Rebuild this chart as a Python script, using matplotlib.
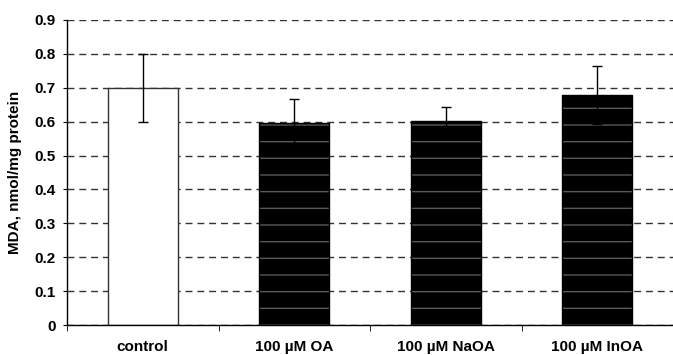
import numpy as np
import matplotlib
matplotlib.use("Agg")
import matplotlib.pyplot as plt

plt.rcParams['font.family'] = ['Liberation Sans', 'DejaVu Sans']
plt.rcParams['hatch.linewidth'] = 1.0

# data
categories = ['control', '100 µM OA', '100 µM NaOA', '100 µM InOA']
means = [0.70, 0.596, 0.603, 0.678]
errors = [0.10, 0.071, 0.04, 0.086]
yticks = [0, 0.1, 0.2, 0.3, 0.4, 0.5, 0.6, 0.7, 0.8, 0.9]
ytick_labels = ['0', '0.1', '0.2', '0.3', '0.4', '0.5', '0.6', '0.7', '0.8', '0.9']

fig = plt.figure(figsize=(6.73, 3.55), dpi=100)
ax = fig.add_axes([0.0996, 0.0845, 0.9004, 0.8592])

x = np.arange(len(categories))
facecolors = ['white', 'black', 'black', 'black']
edgecolors = ['#333333', 'black', 'black', 'black']
hatched = [False, True, True, True]

for xi, m, fc, ec, h in zip(x, means, facecolors, edgecolors, hatched):
    if h:
        # hatch takes the edge colour, so draw the fill and the outline separately
        ax.bar(xi, m, width=0.46, color=fc, edgecolor='#5a5a5a', linewidth=0,
               hatch='-', zorder=2)
    ax.bar(xi, m, width=0.46, color=fc if not h else 'none', edgecolor=ec,
           linewidth=1.0, zorder=2)

ax.errorbar(x, means, yerr=errors, fmt='none', ecolor='black', elinewidth=1.0,
            capsize=3.6, capthick=1.0, zorder=3)

ax.set_xlim(-0.5, 3.5)
ax.set_ylim(0, 0.9)
ax.set_yticks(yticks)
ax.set_yticklabels(ytick_labels, fontsize=11, fontweight='bold')
ax.set_xticks(x)
ax.set_xticklabels(categories, fontsize=11, fontweight='bold')
ax.tick_params(axis='x', which='major', length=0, pad=11)
ax.set_xticks(np.arange(-0.5, 4.0, 1.0), minor=True)
ax.tick_params(axis='x', which='minor', length=4, direction='out')
ax.tick_params(axis='y', length=3, direction='out', pad=5)

ax.yaxis.grid(True, linestyle=(0, (5, 3.5)), color='#333333', linewidth=1.0, zorder=0)
ax.set_axisbelow(True)

for s in ['top', 'right']:
    ax.spines[s].set_visible(False)
ax.spines['left'].set_linewidth(1.0)
ax.spines['bottom'].set_linewidth(1.0)

ax.set_ylabel('MDA, nmol/mg protein', fontsize=11, fontweight='bold')
ax.yaxis.set_label_coords(-0.074, 0.5)

fig.savefig('out.png', dpi=100)
